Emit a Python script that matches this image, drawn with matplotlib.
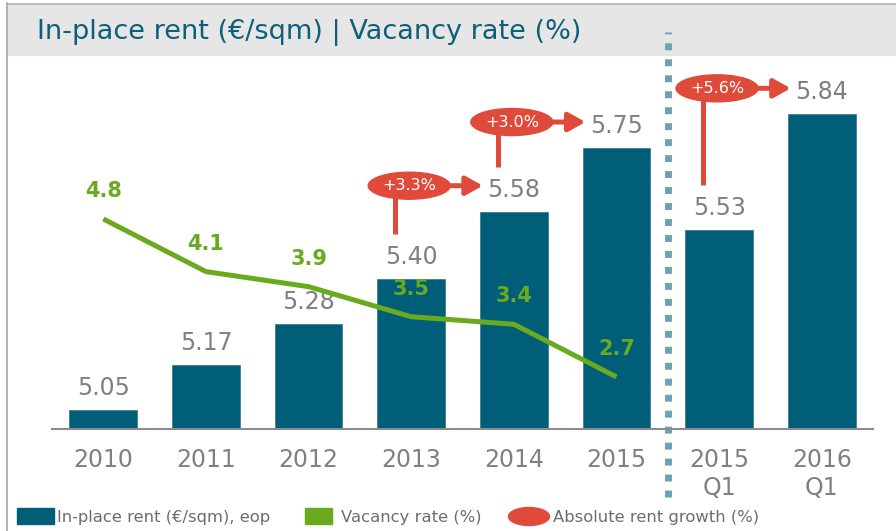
import matplotlib
matplotlib.use("Agg")
from matplotlib import pyplot as plt
from matplotlib.patches import Rectangle, Ellipse
from matplotlib.lines import Line2D

# data
categories = ["2010", "2011", "2012", "2013", "2014", "2015", "2015\nQ1", "2016\nQ1"]
rent = [5.05, 5.17, 5.28, 5.40, 5.58, 5.75, 5.53, 5.84]
vacancy = [4.8, 4.1, 3.9, 3.5, 3.4, 2.7]
growth_labels = ["+3.3%", "+3.0%", "+5.6%"]
growth_from = [3, 4, 6]
growth_to = [4, 5, 7]

TEAL = "#005E78"
GREEN = "#6AAA1E"
RED = "#E04A3A"
GRAY = "#808080"
DOTS = "#6BA3B6"

W, H = 896, 531
fig = plt.figure(figsize=(W / 100, H / 100), dpi=100)


def px(x, y):
    # pixel position (from top left) -> figure fraction
    return x / W, 1 - y / H


# frame and title band
fig.add_artist(Rectangle(px(7, 55), (W - 7) / W, 50 / H, color="#E6E6E6", zorder=-2))
fig.add_artist(Line2D([7 / W, 1], [1 - 3.5 / H] * 2, color="#BDBDBD", lw=1.5, zorder=-1))
fig.add_artist(Line2D([6.5 / W] * 2, [0, 1 - 3 / H], color="#A6A6A6", lw=1.2, zorder=-1))
fig.text(*px(37, 33), "In-place rent (€/sqm) | Vacancy rate (%)", fontsize=19.5,
         color="#0E5F78", va="center")

# axes placed so the baseline sits at y=429 px
ax = fig.add_axes([52 / W, (H - 429) / H, 821 / W, 372 / H])
ax.patch.set_visible(False)
ax.set_xlim(-0.5, 7.5)
ax.set_ylim(5.0, 5.993)
ax2 = ax.twinx()
ax2.set_ylim(2.007, 6.954)

PX_X = 8 / 821
PX_Y = 0.993 / 372

x = list(range(len(categories)))
ax.bar(x, rent, width=0.66, color=TEAL, edgecolor="#3f7f94", linewidth=0.6)
for i, v in enumerate(rent):
    ax.annotate(f"{v:.2f}", (i, v), xytext=(0, 15), textcoords="offset pixels",
                ha="center", va="baseline", fontsize=17, color=GRAY)

ax2.plot(range(len(vacancy)), vacancy, color=GREEN, lw=3.6, solid_capstyle="butt")
for i, v in enumerate(vacancy):
    ax2.annotate(f"{v}", (i, v), xytext=(0, 22), textcoords="offset pixels",
                 ha="center", va="baseline", fontsize=15, fontweight="bold", color=GREEN)

# growth call-outs
for lab, f, t in zip(growth_labels, growth_from, growth_to):
    ey = rent[t] + 26 * PX_Y
    ex = f - 2 * PX_X
    lx = f - 16 * PX_X
    ax.plot([lx, lx], [ey, rent[f] + 45 * PX_Y], color=RED, lw=3.6,
            solid_capstyle="butt", clip_on=False, zorder=3)
    ax.annotate("", xy=(t - 31 * PX_X, ey), xytext=(ex + 36 * PX_X, ey),
                arrowprops=dict(arrowstyle="-|>,head_length=0.5,head_width=0.28",
                                mutation_scale=20, lw=3.6, color=RED,
                                shrinkA=0, shrinkB=0),
                annotation_clip=False, zorder=3)
    ax.add_patch(Ellipse((ex, ey), 82 * PX_X, 27 * PX_Y, color=RED, clip_on=False, zorder=4))
    ax.text(ex, ey, lab, ha="center", va="center", color="white", fontsize=11.5, zorder=5)

# separator between annual and quarterly figures
ax.plot([5.5, 5.5], [-0.183, 1.067], transform=ax.get_xaxis_transform(), color=DOTS,
        lw=5, linestyle=(0, (1, 1.3)), dash_capstyle="butt", clip_on=False)

for a in (ax, ax2):
    for s in ("top", "left", "right", "bottom"):
        a.spines[s].set_visible(False)
    a.set_yticks([])
ax.spines["bottom"].set_visible(True)
ax.spines["bottom"].set_color("#8C8C8C")
ax.spines["bottom"].set_linewidth(1.5)
ax.set_xticks(x, categories)
ax.tick_params(axis="x", length=0, pad=14, labelsize=17, labelcolor=GRAY)

# legend
LEG = "#6D6D6D"
fig.add_artist(Rectangle(px(17, 524), 37 / W, 16 / H, color=TEAL))
fig.text(*px(57, 522), "In-place rent (€/sqm), eop", fontsize=11.8, color=LEG, va="baseline")
fig.add_artist(Rectangle(px(305, 524), 27 / W, 16 / H, color=GREEN))
fig.text(*px(341, 522), "Vacancy rate (%)", fontsize=11.8, color=LEG, va="baseline")
fig.add_artist(Ellipse(px(529, 516.5), 41 / W, 18 / H, color=RED))
fig.text(*px(553, 522), "Absolute rent growth (%)", fontsize=11.8, color=LEG, va="baseline")

fig.savefig("out.png", dpi=100)
